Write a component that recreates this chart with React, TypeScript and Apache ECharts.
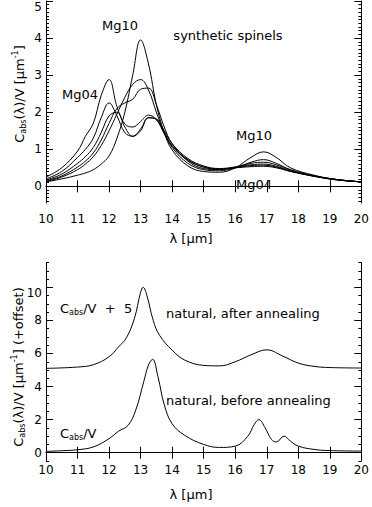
import React, { useEffect, useRef } from "react";
import * as echarts from "echarts";

// ---- top panel: synthetic spinels ----
const wavelengthTop = [10, 10.5, 11, 11.25, 11.5, 11.75, 12, 12.25, 12.5, 12.75, 13, 13.25, 13.5, 13.75, 14, 14.5, 15, 15.5, 16, 16.5, 16.9, 17.3, 17.75, 18.5, 19.25, 20];
const mg04 = [0.25, 0.5, 0.95, 1.35, 1.7, 2.45, 2.88, 2.15, 1.68, 1.6, 1.75, 1.92, 1.8, 1.42, 1.08, 0.7, 0.52, 0.47, 0.5, 0.53, 0.54, 0.5, 0.4, 0.27, 0.17, 0.12];
const spinel2 = [0.2, 0.4, 0.78, 1.0, 1.3, 1.85, 2.25, 1.9, 1.45, 1.35, 1.55, 1.85, 1.8, 1.45, 1.1, 0.72, 0.52, 0.46, 0.5, 0.56, 0.57, 0.52, 0.41, 0.27, 0.17, 0.12];
const spinel3 = [0.17, 0.33, 0.62, 0.8, 1.05, 1.45, 1.9, 2.0, 1.6, 1.35, 1.5, 1.85, 1.82, 1.5, 1.15, 0.75, 0.55, 0.48, 0.52, 0.58, 0.6, 0.54, 0.42, 0.28, 0.18, 0.12];
const spinel4 = [0.15, 0.28, 0.52, 0.68, 0.9, 1.25, 1.7, 2.1, 2.25, 2.35, 2.62, 2.65, 2.2, 1.6, 1.15, 0.68, 0.48, 0.45, 0.52, 0.62, 0.65, 0.58, 0.44, 0.28, 0.18, 0.12];
const spinel5 = [0.13, 0.25, 0.45, 0.6, 0.8, 1.1, 1.5, 1.95, 2.4, 2.75, 2.88, 2.6, 2.0, 1.45, 1.05, 0.62, 0.45, 0.42, 0.5, 0.65, 0.72, 0.62, 0.45, 0.28, 0.18, 0.12];
const mg10 = [0.12, 0.2, 0.3, 0.36, 0.45, 0.6, 0.82, 1.3, 2.0, 3.0, 3.95, 3.3, 2.2, 1.45, 0.98, 0.55, 0.4, 0.38, 0.5, 0.78, 0.93, 0.78, 0.5, 0.3, 0.18, 0.12];
const topSeries = [mg04, spinel2, spinel3, spinel4, spinel5, mg10];

// ---- bottom panel: natural spinel ----
const wavelengthBefore = [10, 10.5, 11, 11.5, 12, 12.3, 12.6, 12.85, 13.1, 13.25, 13.38, 13.55, 13.75, 14, 14.4, 15, 15.5, 16, 16.4, 16.6, 16.75, 16.95, 17.15, 17.3, 17.55, 17.75, 18, 18.5, 19, 20];
const beforeAnnealing = [0.08, 0.12, 0.18, 0.35, 0.85, 1.3, 1.65, 2.6, 4.3, 5.3, 5.65, 4.6, 2.9, 1.75, 1.05, 0.5, 0.32, 0.4, 1.0, 1.7, 2.0, 1.5, 0.8, 0.65, 1.0, 0.7, 0.4, 0.2, 0.13, 0.1];
const wavelengthAfter = [10, 11, 11.5, 12, 12.3, 12.55, 12.8, 13.0, 13.08, 13.2, 13.4, 13.6, 14, 14.4, 15, 15.5, 16, 16.5, 17, 17.5, 18, 18.5, 19, 20];
const afterAnnealingOffset = [5.1, 5.18, 5.32, 5.8, 6.4, 6.95, 8.1, 9.7, 10.0, 9.5, 8.0, 7.1, 6.2, 5.6, 5.28, 5.25, 5.5, 5.92, 6.22, 5.85, 5.42, 5.22, 5.15, 5.12];

// ---- axes ----
const xRange = [10, 20];
const topYRange = [-0.45, 5];
const bottomYRange = [-0.5, 11.5];
const topYMajor = [0, 1, 2, 3, 4, 5];
const bottomYMajor = [0, 2, 4, 6, 8, 10];

function steps(from: number, to: number, step: number) {
  const out: number[] = [];
  for (let v = from; v <= to + 1e-9; v += step) out.push(Math.round(v * 100) / 100);
  return out;
}
const topYMinor = steps(-0.4, 5, 0.1);
const bottomYMinor = steps(-0.5, 11.5, 0.5);

const FONT = "DejaVu Sans";
const BLACK = "#000";

export default function App() {
  const ref = useRef<HTMLDivElement>(null);
  useEffect(() => {
    if (!ref.current) return;
    const chart = echarts.init(ref.current, undefined, { renderer: "svg" });

    const line = { show: true, lineStyle: { color: BLACK, width: 1 } };
    const xAxisDef = (grid: number, pos: "top" | "bottom", labels: boolean, margin: number) => ({
      type: "value",
      gridIndex: grid,
      position: pos,
      min: xRange[0],
      max: xRange[1],
      interval: 1,
      axisLine: line,
      axisTick: { show: true, inside: true, length: 6, lineStyle: { color: BLACK, width: 1 } },
      axisLabel: { show: labels, margin, color: BLACK, fontSize: 12, fontFamily: FONT },
      splitLine: { show: false },
    });
    const yAxisDef = (
      grid: number,
      pos: "left" | "right",
      range: number[],
      ticks: number[],
      len: number,
      labels: boolean,
      showLine: boolean
    ) => ({
      type: "value",
      gridIndex: grid,
      position: pos,
      min: range[0],
      max: range[1],
      axisLine: { ...line, show: showLine },
      axisTick: { show: true, inside: true, length: len, customValues: ticks, lineStyle: { color: BLACK, width: 1 } },
      axisLabel: {
        show: labels,
        customValues: ticks,
        margin: 4,
        color: BLACK,
        fontSize: 12,
        fontFamily: FONT,
        showMaxLabel: true,
        verticalAlignMaxLabel: "top",
      },
      splitLine: { show: false },
    });

    const lineSeries = (xs: number[], ys: number[], xi: number, yi: number, name: string) => ({
      type: "line",
      name,
      xAxisIndex: xi,
      yAxisIndex: yi,
      data: xs.map((x, i) => [x, ys[i]]),
      showSymbol: false,
      symbol: "none",
      smooth: 0.4,
      lineStyle: { color: BLACK, width: 1 },
      silent: true,
    });

    const txt = (x: number, y: number, text: string, align = "center", extra: any = {}) => ({
      type: "text",
      x,
      y,
      silent: true,
      ...extra,
      style: {
        text,
        fill: BLACK,
        fontSize: 13,
        fontFamily: FONT,
        lineHeight: 16,
        align,
        verticalAlign: "middle",
        rich: {
          sub: { fontSize: 8, lineHeight: 8, fontFamily: FONT, fill: BLACK, verticalAlign: "bottom" },
          sup: { fontSize: 8, lineHeight: 8, fontFamily: FONT, fill: BLACK, verticalAlign: "top" },
        },
      },
    });

    const names = ["Mg04", "spinel 2", "spinel 3", "spinel 4", "spinel 5", "Mg10"];

    chart.setOption({
      animation: false,
      backgroundColor: "#fff",
      grid: [
        { left: 46, right: 10, top: 1, height: 202 },
        { left: 46, right: 10, top: 262.5, height: 198.5 },
      ],
      xAxis: [
        xAxisDef(0, "bottom", true, 10),
        xAxisDef(0, "top", false, 8),
        xAxisDef(1, "bottom", true, 3),
        xAxisDef(1, "top", false, 8),
      ],
      yAxis: [
        yAxisDef(0, "left", topYRange, topYMajor, 7, true, true),
        yAxisDef(0, "left", topYRange, topYMinor, 3, false, false),
        yAxisDef(0, "right", topYRange, topYMajor, 7, false, true),
        yAxisDef(0, "right", topYRange, topYMinor, 3, false, false),
        yAxisDef(1, "left", bottomYRange, bottomYMajor, 7, true, true),
        yAxisDef(1, "left", bottomYRange, bottomYMinor, 3, false, false),
        yAxisDef(1, "right", bottomYRange, bottomYMajor, 7, false, true),
        yAxisDef(1, "right", bottomYRange, bottomYMinor, 3, false, false),
      ],
      series: [
        ...topSeries.map((ys, i) => lineSeries(wavelengthTop, ys, 0, 0, names[i])),
        lineSeries(wavelengthAfter, afterAnnealingOffset, 2, 4, "natural, after annealing"),
        lineSeries(wavelengthBefore, beforeAnnealing, 2, 4, "natural, before annealing"),
      ],
      graphic: [
        txt(120, 25, "Mg10"),
        txt(228, 35, "synthetic spinels"),
        txt(80, 94, "Mg04"),
        txt(254, 135, "Mg10"),
        txt(254, 184, "Mg04"),
        txt(191, 238, "λ [μm]"),
        txt(19, 94, "C{sub|abs}(λ)/V [μm{sup|-1}]", "center", { rotation: Math.PI / 2 }),
        txt(60, 308, "C{sub|abs}/V  +  5", "left"),
        txt(166, 313, "natural, after annealing", "left"),
        txt(166, 400, "natural, before annealing", "left"),
        txt(60, 433, "C{sub|abs}/V", "left"),
        txt(191, 494, "λ [μm]"),
        txt(18, 367, "C{sub|abs}(λ)/V [μm{sup|-1}] (+offset)", "center", { rotation: Math.PI / 2 }),
      ],
    });
    return () => chart.dispose();
  }, []);
  return (
    <div
      ref={ref}
      style={{ position: "fixed", left: 0, top: 0, width: 372, height: 507, background: "#fff" }}
    />
  );
}
